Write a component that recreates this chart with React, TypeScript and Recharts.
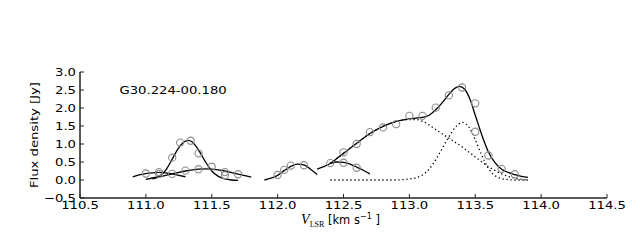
import React from 'react';
import { ComposedChart, Line, Scatter, XAxis, YAxis, ReferenceDot } from 'recharts';

// ---------- text ----------
const sourceName = 'G30.224-00.180';
const yLabelText = 'Flux density [Jy]';
const xLabelVar = 'V';
const xLabelSub = 'LSR';
const xLabelUnit = ' [km s';
const xLabelSup = '−1';
const xLabelEnd = ' ]';

// ---------- ticks ----------
const xTicks = [110.5, 111.0, 111.5, 112.0, 112.5, 113.0, 113.5, 114.0, 114.5];
const yTicks = [-0.5, 0.0, 0.5, 1.0, 1.5, 2.0, 2.5, 3.0];
const xDomain = [110.5, 114.5];
const yDomain = [-0.5, 3.0];

// ---------- observed channels (open circles) ----------
const obsV = [111.0, 111.1, 111.1, 111.2, 111.2, 111.26, 111.3, 111.34, 111.4, 111.4, 111.5, 111.6, 111.6, 111.7,
  112.0, 112.05, 112.1, 112.2,
  112.4, 112.5, 112.6,
  112.5, 112.6, 112.7, 112.8, 112.9, 113.0, 113.1, 113.2, 113.3, 113.4, 113.5, 113.5, 113.6, 113.7, 113.8];
const obsF = [0.18, 0.22, 0.17, 0.62, 0.17, 1.04, 0.26, 1.09, 0.74, 0.30, 0.37, 0.22, 0.13, 0.16,
  0.14, 0.28, 0.40, 0.41,
  0.47, 0.48, 0.34,
  0.77, 1.0, 1.33, 1.46, 1.55, 1.78, 1.78, 2.01, 2.35, 2.57, 2.13, 1.34, 0.68, 0.31, 0.16];

// ---------- fitted components (solid) ----------
const fitA_V = [110.9, 110.95, 111.0, 111.05, 111.1, 111.15, 111.2, 111.25, 111.3];
const fitA_F = [0.09, 0.14, 0.18, 0.2, 0.21, 0.2, 0.17, 0.13, 0.09];

const fitB_V = [111.05, 111.1, 111.15, 111.2, 111.25, 111.3, 111.32, 111.35, 111.4, 111.45, 111.5, 111.55, 111.6, 111.65, 111.7];
const fitB_F = [0.03, 0.1, 0.27, 0.58, 0.9, 1.08, 1.1, 1.06, 0.83, 0.52, 0.25, 0.1, 0.03, 0.0, -0.01];

const fitC_V = [111.0, 111.1, 111.2, 111.3, 111.4, 111.45, 111.5, 111.6, 111.7, 111.8];
const fitC_F = [0.02, 0.09, 0.17, 0.25, 0.3, 0.31, 0.3, 0.25, 0.16, 0.08];

const fitD_V = [111.9, 111.95, 112.0, 112.05, 112.1, 112.15, 112.2, 112.25, 112.3];
const fitD_F = [0.0, 0.05, 0.13, 0.26, 0.38, 0.44, 0.42, 0.3, 0.15];

const fitE_V = [112.4, 112.45, 112.5, 112.55, 112.6, 112.65, 112.7];
const fitE_F = [0.46, 0.5, 0.49, 0.44, 0.36, 0.27, 0.17];

const totalV = [112.3, 112.35, 112.4, 112.45, 112.5, 112.6, 112.7, 112.8, 112.9, 113.0, 113.05, 113.1, 113.15, 113.2, 113.25,
  113.3, 113.35, 113.38, 113.42, 113.46, 113.5, 113.55, 113.6, 113.65, 113.7, 113.75, 113.8, 113.85, 113.9];
const totalF = [0.3, 0.37, 0.46, 0.6, 0.74, 1.02, 1.29, 1.49, 1.63, 1.7, 1.72, 1.74, 1.8, 1.95, 2.15,
  2.38, 2.56, 2.6, 2.52, 2.24, 1.8, 1.25, 0.78, 0.48, 0.3, 0.21, 0.15, 0.1, 0.07];

// ---------- decomposition (dotted) ----------
const broadV = [112.4, 112.5, 112.6, 112.7, 112.8, 112.9, 113.0, 113.05, 113.1, 113.2, 113.3, 113.4, 113.5, 113.6, 113.7, 113.8, 113.9];
const broadF = [0.46, 0.74, 1.02, 1.29, 1.49, 1.62, 1.68, 1.68, 1.63, 1.4, 1.16, 0.92, 0.64, 0.37, 0.17, 0.05, 0.0];

const narrowV = [112.4, 112.6, 112.8, 112.9, 113.0, 113.05, 113.1, 113.15, 113.2, 113.25, 113.3, 113.35, 113.4,
  113.45, 113.5, 113.55, 113.6, 113.65, 113.7, 113.75, 113.8, 113.9];
const narrowF = [0.0, 0.0, 0.0, 0.0, 0.03, 0.06, 0.14, 0.3, 0.56, 0.88, 1.2, 1.47, 1.6,
  1.48, 1.12, 0.68, 0.32, 0.12, 0.04, 0.01, 0.0, 0.0];

const titlePos = { v: 110.8, f: 2.38 };

// ---------- helpers ----------
const zip = (v: number[], f: number[]) => v.map((x, i) => ({ x, y: f[i] }));
const fmt = (n: number) => n.toFixed(1).replace('-', '\u2212');

const SANS = 'DejaVu Sans, Verdana, sans-serif';
const SERIF = 'Liberation Serif, Times New Roman, serif';
const STRETCH = 1.2;

const XTick = (props: any) => {
  const { x, y, payload } = props;
  return (
    <text transform={`translate(${x},${y + 11}) scale(${STRETCH},1)`} textAnchor="middle"
      fontFamily={SANS} fontSize={11} fill="#000">{fmt(payload.value)}</text>
  );
};

const YTick = (props: any) => {
  const { x, y, payload } = props;
  return (
    <text transform={`translate(${x},${y + 4}) scale(${STRETCH},1)`} textAnchor="end"
      fontFamily={SANS} fontSize={11} fill="#000">{fmt(payload.value)}</text>
  );
};

const XLabel = (props: any) => {
  const vb = props.viewBox || { x: 80, y: 198, width: 527, height: 42 };
  const cx = vb.x + vb.width / 2 - 3;
  const by = vb.y + 26;
  return (
    <text x={cx} y={by} textAnchor="middle" fill="#000" fontFamily={SANS} fontSize={11.5}>
      <tspan fontFamily={SERIF} fontStyle="italic" fontSize={14}>{xLabelVar}</tspan>
      <tspan fontFamily={SERIF} fontSize={8} dy={3}>{xLabelSub}</tspan>
      <tspan dy={-3}>{xLabelUnit}</tspan>
      <tspan fontSize={8} dy={-5}>{xLabelSup}</tspan>
      <tspan dy={5}>{xLabelEnd}</tspan>
    </text>
  );
};

const YLabel = (props: any) => {
  const vb = props.viewBox || { x: 0, y: 72, width: 80, height: 126 };
  const cx = vb.x + 38;
  const cy = vb.y + vb.height / 2;
  return (
    <text transform={`translate(${cx},${cy}) rotate(-90) scale(${STRETCH},1)`} textAnchor="middle"
      fontFamily={SANS} fontSize={11} fill="#000">{yLabelText}</text>
  );
};

const TitleLabel = (props: any) => {
  const vb = props.viewBox || { x: 120, y: 94 };
  return (
    <text transform={`translate(${vb.x},${vb.y}) scale(${STRETCH},1)`} textAnchor="start"
      fontFamily={SANS} fontSize={11} fill="#000">{sourceName}</text>
  );
};

const OpenCircle = (props: any) => {
  const { cx, cy } = props;
  if (cx == null || cy == null) return null;
  return <circle cx={cx} cy={cy} r={3.6} fill="none" stroke="#8c8c8c" strokeWidth={1.1} />;
};

const FRAME = { stroke: '#222', strokeWidth: 1.5 };
const TICKLINE = { stroke: '#222', strokeWidth: 1 };

const solidLines = [
  zip(fitA_V, fitA_F),
  zip(fitB_V, fitB_F),
  zip(fitC_V, fitC_F),
  zip(fitD_V, fitD_F),
  zip(fitE_V, fitE_F),
  zip(totalV, totalF),
];
const dottedLines = [zip(broadV, broadF), zip(narrowV, narrowF)];
const observed = zip(obsV, obsF);

export default function App() {
  return (
    <div style={{ position: 'absolute', left: 0, top: 0, width: 640, height: 240, background: '#fff' }}>
      <ComposedChart width={640} height={240} margin={{ top: 72, right: 33, bottom: 0, left: 0 }}>
        <XAxis type="number" dataKey="x" domain={xDomain} ticks={xTicks} interval={0} allowDataOverflow
          height={42} tickSize={-4} tickMargin={4} axisLine={FRAME} tickLine={TICKLINE} tick={<XTick />}
          label={<XLabel />} />
        <XAxis xAxisId="top" orientation="top" type="number" domain={xDomain} ticks={xTicks} interval={0}
          allowDataOverflow height={0} tickSize={-4} axisLine={FRAME} tickLine={TICKLINE} tick={false} />
        <YAxis type="number" dataKey="y" domain={yDomain} ticks={yTicks} interval={0} allowDataOverflow
          width={80} tickSize={-4} tickMargin={8} axisLine={FRAME} tickLine={TICKLINE} tick={<YTick />}
          label={<YLabel />} />
        <YAxis yAxisId="right" orientation="right" type="number" domain={yDomain} ticks={yTicks} interval={0}
          allowDataOverflow width={0} tickSize={-4} axisLine={FRAME} tickLine={TICKLINE} tick={false} />
        <Scatter data={observed} dataKey="y" shape={<OpenCircle />} isAnimationActive={false} legendType="none" />
        {dottedLines.map((d, i) => (
          <Line key={`d${i}`} data={d} dataKey="y" type="monotone" stroke="#000" strokeWidth={1.3}
            strokeDasharray="1.3 2.7" dot={false} activeDot={false} isAnimationActive={false} legendType="none" />
        ))}
        {solidLines.map((d, i) => (
          <Line key={`s${i}`} data={d} dataKey="y" type="monotone" stroke="#000" strokeWidth={1.3}
            dot={false} activeDot={false} isAnimationActive={false} legendType="none" />
        ))}
        <ReferenceDot x={titlePos.v} y={titlePos.f} r={0} fill="none" stroke="none" label={<TitleLabel />} />
      </ComposedChart>
    </div>
  );
}
